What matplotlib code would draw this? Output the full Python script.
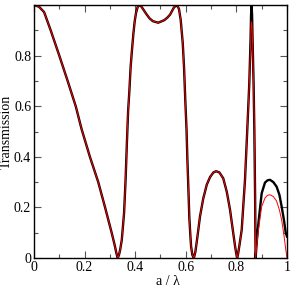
import matplotlib
matplotlib.use('Agg')
import matplotlib.pyplot as plt
from matplotlib.ticker import MultipleLocator

plt.rcParams['font.family'] = ['Liberation Serif', 'DejaVu Serif']

# values
a_lambda = [0.0, 0.02, 0.04, 0.066, 0.1, 0.133, 0.165, 0.188, 0.221, 0.254,
            0.281, 0.307, 0.318, 0.326, 0.331, 0.336, 0.341, 0.347, 0.356, 0.362,
            0.367, 0.372, 0.377, 0.382, 0.388, 0.393, 0.398, 0.403, 0.41, 0.416,
            0.425, 0.435, 0.445, 0.457, 0.47, 0.491, 0.515, 0.527, 0.538, 0.546,
            0.553, 0.564, 0.573, 0.58, 0.588, 0.593, 0.598, 0.603, 0.606, 0.61,
            0.614, 0.618, 0.621, 0.626, 0.632, 0.638, 0.646, 0.656, 0.669, 0.683,
            0.696, 0.709, 0.72, 0.733, 0.748, 0.762, 0.775, 0.786, 0.795, 0.8,
            0.803, 0.807, 0.812, 0.821, 0.834, 0.843, 0.851, 0.856, 0.858, 0.86,
            0.862, 0.864, 0.868, 0.871, 0.874, 0.876, 0.881, 0.887, 0.9, 0.913,
            0.923, 0.933, 0.946, 0.959, 0.97, 0.979, 0.988, 0.995, 1.0]

trans_black = [1.0, 0.993, 0.972, 0.90, 0.80, 0.70, 0.60, 0.51, 0.40, 0.30,
               0.20, 0.10, 0.055, 0.018, 0.0, 0.012, 0.035, 0.071, 0.177, 0.308,
               0.45, 0.58, 0.66, 0.756, 0.83, 0.888, 0.935, 0.967, 0.993, 1.0,
               0.993, 0.978, 0.963, 0.947, 0.936, 0.93, 0.94, 0.95, 0.962, 0.977,
               0.99, 1.0, 0.985, 0.94, 0.849, 0.756, 0.625, 0.506, 0.40, 0.28,
               0.16, 0.09, 0.045, 0.012, 0.0, 0.025, 0.084, 0.163, 0.235, 0.29,
               0.32, 0.338, 0.343, 0.338, 0.315, 0.262, 0.19, 0.11, 0.045, 0.015,
               0.0, 0.018, 0.05, 0.111, 0.308, 0.506, 0.69, 0.862, 0.96, 1.0,
               0.96, 0.862, 0.69, 0.506, 0.242, 0.0, 0.07, 0.137, 0.256, 0.298,
               0.307, 0.309, 0.30, 0.282, 0.25, 0.203, 0.15, 0.10, 0.085]

trans_red = [1.0, 0.993, 0.972, 0.90, 0.80, 0.70, 0.60, 0.51, 0.40, 0.30,
             0.20, 0.10, 0.055, 0.018, 0.0, 0.012, 0.035, 0.071, 0.177, 0.308,
             0.45, 0.58, 0.66, 0.756, 0.83, 0.888, 0.935, 0.967, 0.993, 1.0,
             0.993, 0.978, 0.963, 0.947, 0.936, 0.93, 0.94, 0.95, 0.962, 0.977,
             0.99, 1.0, 0.985, 0.94, 0.849, 0.756, 0.625, 0.506, 0.40, 0.28,
             0.16, 0.09, 0.045, 0.012, 0.0, 0.025, 0.084, 0.163, 0.235, 0.29,
             0.32, 0.338, 0.343, 0.338, 0.315, 0.262, 0.19, 0.11, 0.045, 0.015,
             0.0, 0.018, 0.05, 0.111, 0.308, 0.506, 0.69, 0.84, 0.915, 0.934,
             0.915, 0.85, 0.69, 0.506, 0.242, 0.0, 0.055, 0.111, 0.203, 0.237,
             0.248, 0.25, 0.243, 0.225, 0.19, 0.15, 0.09, 0.035, 0.0]

x_ticks = [0, 0.2, 0.4, 0.6, 0.8, 1.0]
x_labels = ['0', '0.2', '0.4', '0.6', '0.8', '1']
y_ticks = [0, 0.2, 0.4, 0.6, 0.8, 1.0]
y_labels = ['0', '0.2', '0.4', '0.6', '0.8', '']

fig = plt.figure(figsize=(2.91, 2.87), dpi=100)
ax = fig.add_axes([0.1168, 0.101, 0.8694, 0.8816])

ax.plot(a_lambda, trans_black, color='black', lw=1.7, solid_joinstyle='round')
ax.plot(a_lambda, trans_red, color='red', lw=0.7)

ax.set_xlim(0, 1)
ax.set_ylim(0, 1)
ax.set_xticks(x_ticks)
ax.set_xticklabels(x_labels)
ax.set_yticks(y_ticks)
ax.set_yticklabels(y_labels)
ax.xaxis.set_minor_locator(MultipleLocator(0.1))
ax.yaxis.set_minor_locator(MultipleLocator(0.1))
ax.tick_params(which='both', direction='in', top=True, right=True, labelsize=10,
               width=0.8, color='#555555')
ax.tick_params(which='major', length=5, pad=2)
ax.tick_params(which='minor', length=3)
for s in ax.spines.values():
    s.set_linewidth(1.0)

ax.set_xlabel('a / \u03bb', fontsize=10, labelpad=1)
ax.xaxis.label.set_x(0.53)
ax.set_ylabel('Transmission', fontsize=10)
ax.yaxis.set_label_coords(-0.083, 0.5)

fig.savefig('out.png', dpi=100)
